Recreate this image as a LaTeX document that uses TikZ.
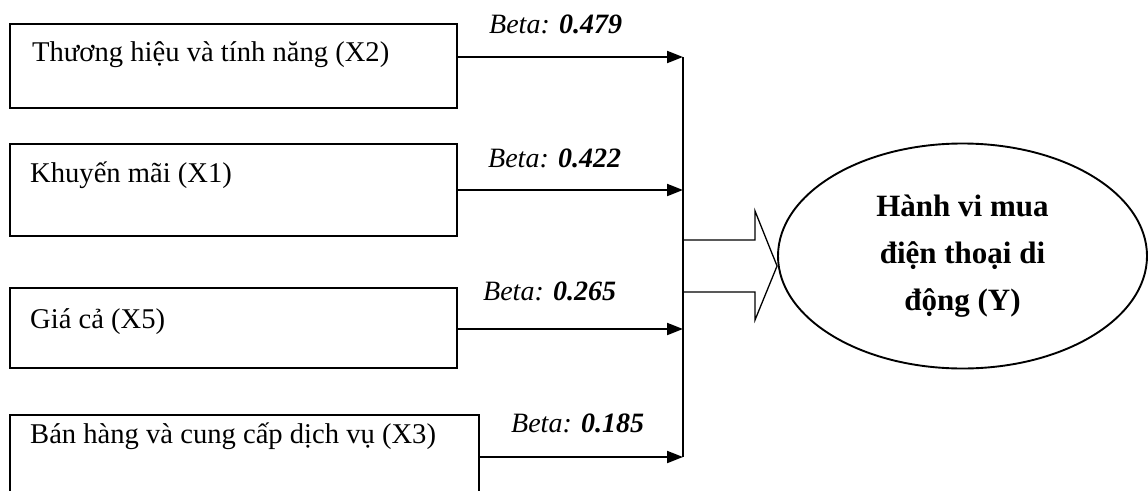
\documentclass[tikz,border=0pt]{standalone}
\usepackage{fontspec}
\setmainfont{Liberation Serif}
\usetikzlibrary{arrows.meta,shapes.geometric}

\tikzset{
  factor/.style={draw, line width=1.9pt, rectangle, inner sep=0pt},
  factortext/.style={anchor=base west, inner sep=0pt, font=\fontsize{28.6}{34}\selectfont},
  beta/.style={anchor=base west, inner sep=0pt, font=\fontsize{28}{34}\selectfont\itshape},
  link/.style={line width=2pt, -{Triangle[length=16pt,width=12pt]}},
  bus/.style={line width=1.7pt},
  bigarrow/.style={line width=1.3pt, line join=miter},
  outcome/.style={draw, ellipse, line width=1.9pt, inner sep=0pt, align=center,
    font=\fontsize{31}{47}\selectfont\bfseries}
}

\begin{document}
\begin{tikzpicture}[x=1pt,y=-1pt]
\useasboundingbox (0,0) rectangle (1148,490);

% factor boxes (X2, X1, X5, X3)
\node[factor, minimum width=447pt, minimum height=84pt] (x2) at (233.5,66) {};
\node[factor, minimum width=447pt, minimum height=92pt] (x1) at (233.5,190) {};
\node[factor, minimum width=447pt, minimum height=80pt] (x5) at (233.5,328) {};
\node[factor, minimum width=469pt, minimum height=90pt] (x3) at (244.5,460) {};

\node[factortext] (tx2) at (32,61) {Thương hiệu và tính năng (X2)};
\node[factortext] (tx1) at (30,182) {Khuyến mãi (X1)};
\node[factortext] (tx5) at (30,328) {Giá cả (X5)};
\node[factortext] (tx3) at (30,443) {Bán hàng và cung cấp dịch vụ (X3)};

% junctions on the collecting line
\coordinate (j2) at (683,57);
\coordinate (j1) at (683,190);
\coordinate (j5) at (683,329);
\coordinate (j3) at (683,457);

\draw[link] (x2.east |- j2) -- (j2);
\draw[link] (x1.east |- j1) -- (j1);
\draw[link] (x5.east |- j5) -- (j5);
\draw[link] (x3.east |- j3) -- (j3);
\draw[bus] (j2) -- (j3);

% coefficients
\node[beta] (b2) at (489,33) {Beta: \textbf{0.479}};
\node[beta] (b1) at (488,167) {Beta: \textbf{0.422}};
\node[beta] (b5) at (483,300) {Beta: \textbf{0.265}};
\node[beta] (b3) at (511,432) {Beta: \textbf{0.185}};

% outcome
\node[outcome, minimum width=369pt, minimum height=225pt] (y) at (962.5,256)
  {Hành vi mua\\điện thoại di\\động (Y)};

% block arrow into the outcome
\coordinate (s1) at (683,240);
\coordinate (s2) at (683,292);
\draw[bigarrow] (s1) -- (755,240) -- (755,211) -- (y.west |- 0,266) -- (755,320) -- (755,292) -- (s2);
\end{tikzpicture}
\end{document}
